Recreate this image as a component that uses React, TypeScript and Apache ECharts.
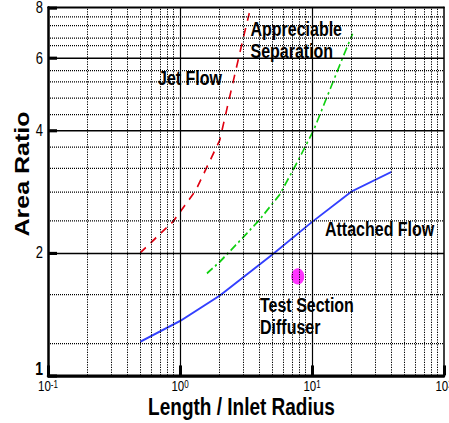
import React, { useEffect, useRef } from "react";
import * as echarts from "echarts";

// ---- data ----
const attachedX = [0.5, 1, 2, 5, 10, 20, 40];
const attachedY = [1.21, 1.36, 1.57, 1.98, 2.38, 2.83, 3.16];

const jetX = [0.5, 0.89, 1.32, 2, 2.5, 3, 3.35];
const jetY = [2.0, 2.39, 2.85, 3.78, 5.18, 6.69, 7.75];

const sepX = [1.6, 2, 3, 4, 5.7, 7.7, 10.3, 17, 20.3];
const sepY = [1.78, 1.9, 2.18, 2.41, 2.78, 3.33, 4.0, 6.0, 6.9];

const testX = [7.8];
const testY = [1.75];

const xTickExponents = [-1, 0, 1, 2];
const yTickValues = [1, 2, 4, 6, 8];
const yMinorGrid = [1.2, 1.6, 2.4, 2.8, 3.2, 3.6, 4.4, 4.8, 5.2, 5.6, 6.4, 6.8, 7.2, 7.6];
const yMajorGrid = [2, 4, 6];
const xMajorGrid = [1, 10];
const xDecades = [0.1, 1, 10];
const xMinorMultipliers = [2, 3, 4, 5, 6, 7, 8, 9];

const L = (v: number) => Math.log10(v);
const FONT = "'Liberation Sans', Arial, Helvetica, sans-serif";
const W = 449;
const H = 338;
const SCALE_Y = 423 / H;

export default function App() {
  const ref = useRef<HTMLDivElement>(null);

  useEffect(() => {
    if (!ref.current) return;
    const chart = echarts.init(ref.current, undefined, { renderer: "svg" });

    const toPts = (xs: number[], ys: number[]) => xs.map((x, i) => [L(x), L(ys[i])]);

    const gridData: any[] = [];
    xDecades.forEach((d) =>
      xMinorMultipliers.forEach((m) => gridData.push({ xAxis: L(d * m) }))
    );
    yMinorGrid.forEach((v) => gridData.push({ yAxis: L(v) }));
    xMajorGrid.forEach((v) =>
      gridData.push({ xAxis: L(v), lineStyle: { type: "solid", width: 1.2, color: "#000" } })
    );
    yMajorGrid.forEach((v) =>
      gridData.push({ yAxis: L(v), lineStyle: { type: "solid", width: 1.2, color: "#000" } })
    );

    const option: any = {
      animation: false,
      grid: {
        left: 48,
        right: W - 444,
        top: 6,
        bottom: H - 300,
        containLabel: false,
        outerBoundsMode: "none",
      },
      xAxis: [
        {
          type: "value",
          min: -1,
          max: 2,
          position: "bottom",
          axisLine: { show: true, onZero: false, lineStyle: { color: "#000", width: 2.5 } },
          axisTick: {
            show: true,
            inside: true,
            length: 8,
            customValues: xTickExponents,
            lineStyle: { color: "#000", width: 3 },
          },
          axisLabel: {
            show: true,
            customValues: xTickExponents,
            margin: 3,
            formatter: (v: number) => `{b|10}{s|${Math.round(v)}}`,
            rich: {
              b: { fontSize: 11.5, lineHeight: 11, fontFamily: FONT, color: "#000" },
              s: { fontSize: 8, lineHeight: 8, fontFamily: FONT, color: "#000", verticalAlign: "top" },
            },
          },
          splitLine: { show: false },
          name: "Length / Inlet Radius",
          nameLocation: "middle",
          nameGap: 16.5,
          nameMoveOverlap: false,
          nameTextStyle: {
            fontFamily: FONT,
            fontWeight: "bold",
            fontSize: 19,
            lineHeight: 18,
            color: "#000",
            padding: [0, 9, 0, 0],
          },
        },
        {
          type: "value",
          min: -1,
          max: 2,
          position: "top",
          axisLine: { show: true, onZero: false, lineStyle: { color: "#000", width: 1.5 } },
          axisTick: { show: false },
          axisLabel: { show: false },
          splitLine: { show: false },
        },
      ],
      yAxis: [
        {
          type: "value",
          min: 0,
          max: L(8),
          position: "left",
          axisLine: { show: true, onZero: false, lineStyle: { color: "#000", width: 2.5 } },
          axisTick: {
            show: true,
            inside: true,
            length: 9,
            customValues: yTickValues.map(L),
            lineStyle: { color: "#000", width: 2.5 },
          },
          axisLabel: {
            show: true,
            customValues: yTickValues.map(L),
            margin: 5,
            fontSize: 13,
            fontFamily: FONT,
            color: "#000",
            formatter: (v: number) => {
              const n = Math.round(Math.pow(10, v));
              return n === 1 ? `{one|${n}}` : `${n}`;
            },
            rich: {
              one: { fontSize: 14, fontWeight: "bold", fontFamily: FONT, color: "#000", padding: [0, 0, 10, 0] },
            },
          },
          splitLine: { show: false },
          name: "Area Ratio",
          nameLocation: "middle",
          nameRotate: 90,
          nameGap: 16,
          nameMoveOverlap: false,
          nameTextStyle: {
            fontFamily: FONT,
            fontWeight: "bold",
            fontSize: 20,
            color: "#000",
            padding: [0, 0, 0, 28],
          },
        },
        {
          type: "value",
          min: 0,
          max: L(8),
          position: "right",
          axisLine: { show: true, onZero: false, lineStyle: { color: "#000", width: 1.5 } },
          axisTick: { show: false },
          axisLabel: { show: false },
          splitLine: { show: false },
        },
      ],
      series: [
        {
          type: "line",
          z: 1,
          silent: true,
          data: [[-1, 0]],
          symbol: "none",
          lineStyle: { opacity: 0 },
          markLine: {
            silent: true,
            symbol: ["none", "none"],
            label: { show: false },
            lineStyle: { color: "#000", width: 1, type: [1, 1] },
            data: gridData,
          },
        },
        {
          type: "line",
          z: 3,
          data: toPts(attachedX, attachedY),
          symbol: "none",
          lineStyle: { color: "#3340ff", width: 1.6 },
        },
        {
          type: "line",
          z: 3,
          data: toPts(jetX, jetY),
          symbol: "none",
          lineStyle: { color: "#e00010", width: 1.6, type: [7, 6] },
        },
        {
          type: "line",
          z: 3,
          data: toPts(sepX, sepY),
          symbol: "none",
          lineStyle: { color: "#10d010", width: 1.6, type: [7, 3, 2, 3] },
        },
        {
          type: "scatter",
          z: 4,
          data: toPts(testX, testY),
          symbol: "circle",
          symbolSize: 13,
          itemStyle: { color: "#ff00ff" },
        },
      ],
      graphic: [
        {
          type: "text",
          x: 158,
          y: 62.6,
          style: {
            text: "Jet Flow",
            font: `bold 16px ${FONT}`,
            fill: "#000",
            textAlign: "left",
            textVerticalAlign: "middle",
          },
        },
        {
          type: "text",
          x: 250.5,
          y: 32.3,
          style: {
            text: "Appreciable\nSeparation",
            font: `bold 16px ${FONT}`,
            lineHeight: 18,
            fill: "#000",
            textAlign: "left",
            textVerticalAlign: "middle",
          },
        },
        {
          type: "text",
          x: 325,
          y: 183.5,
          style: {
            text: "Attached Flow",
            font: `bold 16px ${FONT}`,
            fill: "#000",
            textAlign: "left",
            textVerticalAlign: "middle",
          },
        },
        {
          type: "text",
          x: 260,
          y: 252.4,
          style: {
            text: "Test Section\nDiffuser",
            font: `bold 16px ${FONT}`,
            lineHeight: 17.6,
            fill: "#000",
            textAlign: "left",
            textVerticalAlign: "middle",
          },
        },
      ],
    };

    chart.setOption(option);
    return () => chart.dispose();
  }, []);

  return (
    <div
      ref={ref}
      style={{
        position: "absolute",
        left: 0,
        top: 0,
        width: W,
        height: H,
        transform: `scaleY(${SCALE_Y})`,
        transformOrigin: "0 0",
        background: "#fff",
      }}
    />
  );
}
